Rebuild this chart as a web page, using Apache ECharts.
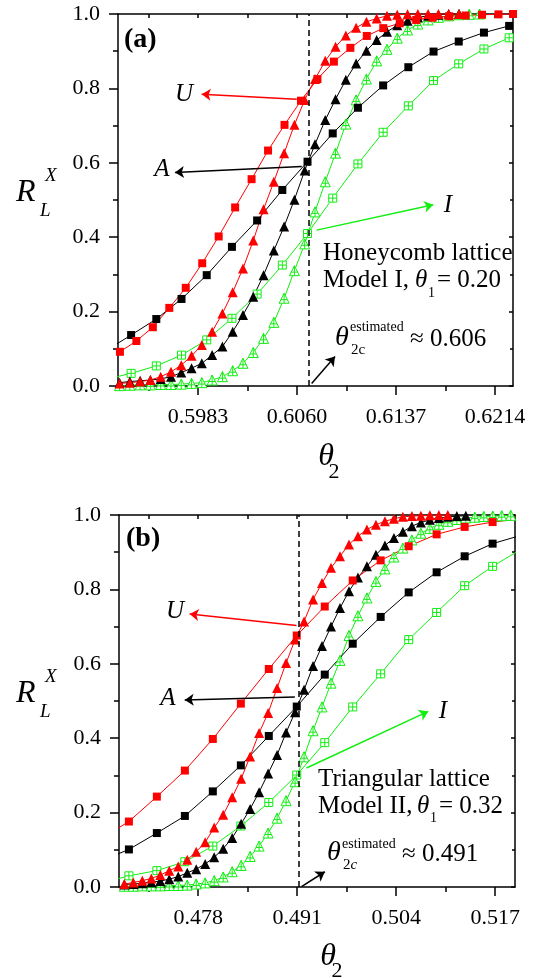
<!DOCTYPE html>
<html>
<head>
<meta charset="utf-8">
<script src="https://cdn.jsdelivr.net/npm/echarts@6/dist/echarts.min.js"></script>
<style>
  html, body { margin: 0; padding: 0; background: #fff; }
  #chart { width: 539px; height: 978px; }
</style>
</head>
<body>
<div id="chart"></div>
<script>
// ---------- panel (a): honeycomb lattice ----------
const aTicks = [0.5983, 0.6060, 0.6137, 0.6214];
const aMinorTicks = [0.59445, 0.60215, 0.60985, 0.61755];
const aCrit = 0.6069;

const aTriX = [0.5922, 0.5930, 0.5938, 0.5946, 0.5954, 0.5962, 0.5970, 0.5978, 0.5986, 0.5994,
  0.6002, 0.6010, 0.6018, 0.6026, 0.6034, 0.6042, 0.6050, 0.6058, 0.6066, 0.6074,
  0.6082, 0.6090, 0.6098, 0.6106, 0.6114, 0.6122, 0.6130, 0.6138, 0.6146, 0.6154,
  0.6162, 0.6170, 0.6178, 0.6186, 0.6194, 0.6202];
const aRedTriY = [0.007, 0.009, 0.012, 0.016, 0.025, 0.038, 0.056, 0.081, 0.110, 0.146,
  0.195, 0.252, 0.316, 0.391, 0.475, 0.549, 0.626, 0.702, 0.769, 0.825,
  0.874, 0.912, 0.942, 0.963, 0.979, 0.988, 0.995, 0.998, 0.999, 1.0,
  1.0, 1.0, 1.0, 1.0];
const aBlackTriY = [0.009, 0.012, 0.014, 0.016, 0.019, 0.025, 0.036, 0.048, 0.061, 0.083,
  0.106, 0.146, 0.191, 0.240, 0.298, 0.364, 0.429, 0.501, 0.579, 0.650,
  0.715, 0.771, 0.823, 0.867, 0.901, 0.930, 0.952, 0.970, 0.982, 0.991,
  0.995, 0.998, 1.0, 1.0];
const aGreenTriY = [0.001, 0.002, 0.003, 0.003, 0.004, 0.004, 0.005, 0.007, 0.009, 0.016,
  0.025, 0.041, 0.061, 0.090, 0.128, 0.171, 0.236, 0.310, 0.382, 0.468,
  0.549, 0.626, 0.704, 0.769, 0.825, 0.874, 0.905, 0.935, 0.957, 0.973,
  0.984, 0.991, 0.995, 0.998, 0.999, 1.0];

const aSqX = [0.59114, 0.5931, 0.59506, 0.59702, 0.59898, 0.60094, 0.6029, 0.60486, 0.60682,
  0.60878, 0.61074, 0.6127, 0.61466, 0.61662, 0.61858, 0.62054, 0.6225];
const aBlackSqY = [0.095, 0.137, 0.180, 0.234, 0.298, 0.374, 0.445, 0.527, 0.603,
  0.679, 0.748, 0.808, 0.857, 0.899, 0.926, 0.950, 0.968];
const aGreenSqY = [0.018, 0.034, 0.054, 0.083, 0.124, 0.182, 0.247, 0.325, 0.410,
  0.505, 0.597, 0.682, 0.753, 0.821, 0.866, 0.906, 0.936];
const aRedSqX = [0.59223, 0.59351, 0.59479, 0.59607, 0.59735, 0.59863, 0.59991, 0.60119, 0.60247,
  0.60375, 0.60503, 0.60631, 0.60759, 0.60887, 0.61015, 0.61143, 0.61271, 0.61399,
  0.61527, 0.61655, 0.61783, 0.61911, 0.62039, 0.62167, 0.6228];
const aRedSqY = [0.092, 0.121, 0.158, 0.210, 0.264, 0.330, 0.402, 0.480, 0.556,
  0.633, 0.702, 0.767, 0.825, 0.872, 0.909, 0.941, 0.962, 0.975,
  0.984, 0.990, 0.994, 0.996, 0.998, 0.999, 1.0];

// arrows: [x1, y1, x2, y2, colour] – head at the second point
const aArrows = [
  [0.60598, 0.771, 0.59859, 0.784, '#ff0000'],
  [0.60637, 0.590, 0.59651, 0.574, '#000000'],
  [0.60753, 0.419, 0.61660, 0.487, '#11ee11'],
  [0.60714, 0.007, 0.60896, 0.079, '#000000']
];

// ---------- panel (b): triangular lattice ----------
const bTicks = [0.478, 0.491, 0.504, 0.517];
const bMinorTicks = [0.4715, 0.4845, 0.4975, 0.5105];
const bCrit = 0.4912;

const bTriX = [0.4683, 0.46948, 0.47066, 0.47184, 0.47302, 0.4742, 0.47538, 0.47656, 0.47774, 0.47892,
  0.4801, 0.48128, 0.48246, 0.48364, 0.48482, 0.486, 0.48718, 0.48836, 0.48954, 0.49072,
  0.4919, 0.49308, 0.49426, 0.49544, 0.49662, 0.4978, 0.49898, 0.50016, 0.50134, 0.50252,
  0.5037, 0.50488, 0.50606, 0.50724, 0.50842, 0.5096, 0.51078, 0.51196, 0.51314, 0.51432,
  0.5155, 0.51668, 0.51786, 0.51904];
const bRedTriY = [0.008, 0.012, 0.017, 0.023, 0.032, 0.044, 0.055, 0.073, 0.095, 0.120,
  0.160, 0.194, 0.241, 0.291, 0.351, 0.414, 0.468, 0.535, 0.602, 0.665,
  0.714, 0.773, 0.817, 0.858, 0.889, 0.921, 0.943, 0.961, 0.974, 0.983,
  0.990, 0.995, 0.997, 0.998, 0.999, 1.0, 1.0];
const bBlackTriY = [0.007, 0.008, 0.010, 0.013, 0.016, 0.021, 0.028, 0.038, 0.048, 0.062,
  0.080, 0.103, 0.132, 0.170, 0.210, 0.255, 0.305, 0.355, 0.415, 0.470,
  0.530, 0.594, 0.648, 0.700, 0.750, 0.795, 0.832, 0.862, 0.893, 0.918,
  0.938, 0.955, 0.970, 0.980, 0.987, 0.992, 0.995, 0.997, 0.998];
const bGreenTriY = [0.002, 0.002, 0.003, 0.003, 0.003, 0.004, 0.004, 0.005, 0.008, 0.011,
  0.017, 0.027, 0.041, 0.058, 0.082, 0.110, 0.145, 0.185, 0.232, 0.283,
  0.350, 0.420, 0.484, 0.548, 0.609, 0.676, 0.729, 0.777, 0.821, 0.855,
  0.887, 0.911, 0.933, 0.951, 0.964, 0.975, 0.983, 0.988, 0.992, 0.994,
  0.996, 0.997, 0.998, 0.999];

const bSqX = [0.46523, 0.4689, 0.47257, 0.47625, 0.47992, 0.4836, 0.48727, 0.49094,
  0.49462, 0.49829, 0.50196, 0.50564, 0.50931, 0.51299, 0.51666, 0.52033];
const bRedSqY = [0.13, 0.176, 0.243, 0.313, 0.398, 0.493, 0.586, 0.676,
  0.754, 0.824, 0.878, 0.916, 0.948, 0.968, 0.981, 0.990];
const bBlackSqY = [0.07, 0.101, 0.145, 0.191, 0.257, 0.327, 0.406, 0.485,
  0.571, 0.654, 0.726, 0.792, 0.846, 0.889, 0.923, 0.945];
const bGreenSqY = [0.01, 0.030, 0.044, 0.068, 0.110, 0.164, 0.227, 0.301,
  0.388, 0.484, 0.573, 0.665, 0.738, 0.810, 0.862, 0.907];

const bArrows = [
  [0.49091, 0.703, 0.47688, 0.734, '#ff0000'],
  [0.49069, 0.511, 0.47623, 0.503, '#000000'],
  [0.49222, 0.320, 0.50821, 0.472, '#11ee11'],
  [0.49157, 0.001, 0.49463, 0.041, '#000000']
];

const RED = '#ff0000', BLACK = '#000000', GREEN = '#11ee11';
const FONT = '"Liberation Serif", "Times New Roman", serif';
const OPEN_SQ = 'path://M0,0L10,0L10,10L0,10Z M5,0L5,10 M0,5L10,5';
const OPEN_TRI = 'path://M5,0L10,9L0,9Z M5,0L5,9 M1.8,5.8L8.2,5.8';

const chart = echarts.init(document.getElementById('chart'), null, { renderer: 'canvas' });

const axisLine = { show: true, onZero: false, lineStyle: { color: '#000', width: 1.5 } };
const tickStyle = { color: '#000', width: 1.5 };

function xAxes(grid, min, max, majors, minors, digits) {
  return [
    { type: 'value', gridIndex: grid, min, max, position: 'bottom', axisLine,
      axisTick: { show: true, customValues: majors, length: 9, lineStyle: tickStyle },
      axisLabel: { show: true, customValues: majors, formatter: v => v.toFixed(digits),
        color: '#000', fontFamily: FONT, fontSize: 22, margin: 20 },
      splitLine: { show: false } },
    { type: 'value', gridIndex: grid, min, max, position: 'bottom', axisLine: { show: false },
      axisTick: { show: true, customValues: minors, length: 5, lineStyle: tickStyle },
      axisLabel: { show: false }, splitLine: { show: false } },
    { type: 'value', gridIndex: grid, min, max, position: 'top', axisLine,
      axisTick: { show: true, inside: true, customValues: majors.concat(minors), length: 4, lineStyle: tickStyle },
      axisLabel: { show: false }, splitLine: { show: false } }
  ];
}

function yAxes(grid) {
  return [
    { type: 'value', gridIndex: grid, min: 0, max: 1, interval: 0.2, position: 'left', axisLine,
      axisTick: { show: true, length: 9, lineStyle: tickStyle },
      minorTick: { show: true, splitNumber: 2, length: 5, lineStyle: tickStyle },
      axisLabel: { formatter: v => v.toFixed(1), color: '#000', fontFamily: FONT, fontSize: 22, margin: 18 },
      splitLine: { show: false }, minorSplitLine: { show: false } },
    { type: 'value', gridIndex: grid, min: 0, max: 1, interval: 0.2, position: 'right', axisLine,
      axisTick: { show: true, inside: true, length: 4, lineStyle: tickStyle },
      minorTick: { show: true, splitNumber: 2, length: 3, lineStyle: tickStyle },
      axisLabel: { show: false }, splitLine: { show: false } }
  ];
}

function mk(xs, ys, color, kind, xi, yi) {
  const symbols = { sq: 'rect', tri: 'triangle', osq: OPEN_SQ, otri: OPEN_TRI };
  const open = kind[0] === 'o';
  return {
    type: 'line', xAxisIndex: xi, yAxisIndex: yi, clip: true, showAllSymbol: true,
    data: ys.map((y, i) => [xs[i], y]),
    symbol: symbols[kind], symbolSize: kind.indexOf('tri') >= 0 ? 10 : 8,
    lineStyle: { color, width: 1 },
    itemStyle: open ? { color: '#fff', borderColor: color, borderWidth: 1 } : { color },
    emphasis: { disabled: true }, silent: true
  };
}

// vertical dashed line at the estimated threshold
function critLine(v, xi, yi) {
  return { type: 'line', xAxisIndex: xi, yAxisIndex: yi, data: [], silent: true,
    markLine: { silent: true, precision: 6, symbol: ['none', 'none'], label: { show: false },
      lineStyle: { color: '#000', type: [6, 4], width: 1.5 },
      data: [[{ coord: [v, 0] }, { coord: [v, 1] }]] } };
}

function arrowLines(list, xi, yi) {
  return { type: 'line', xAxisIndex: xi, yAxisIndex: yi, data: [], silent: true,
    markLine: { silent: true, precision: 6, symbol: ['none', 'arrow'], symbolSize: 9, label: { show: false },
      emphasis: { disabled: true },
      data: list.map(a => [
        { coord: [a[0], a[1]], lineStyle: { color: a[4], width: 1.5, type: 'solid' } },
        { coord: [a[2], a[3]] }
      ]) } };
}

function txt(x, y, text, font, align) {
  return { type: 'text', x, y, silent: true,
    style: { text, font, fill: '#000', textAlign: align || 'left', textVerticalAlign: 'middle' } };
}
const it = s => 'italic ' + s + 'px ' + FONT;
const rm = s => s + 'px ' + FONT;
const bd = s => 'bold ' + s + 'px ' + FONT;

const graphics = [
  // panel a
  txt(16, 193, 'R', it(32)), txt(45, 176, 'X', it(19)), txt(40, 211, 'L', it(19)),
  txt(124, 40, '(a)', bd(28)),
  txt(184, 94, 'U', it(25), 'center'), txt(162, 169, 'A', it(25), 'center'), txt(448, 205, 'I', it(25), 'center'),
  txt(323, 253, 'Honeycomb lattice', rm(25)),
  txt(323, 280, 'Model I,', rm(25)), txt(415, 280, 'θ', it(25)), txt(428, 293, '1', rm(14)), txt(437, 280, '= 0.20', rm(25)),
  txt(335, 338, 'θ', it(28)), txt(350, 327, 'estimated', rm(14)), txt(351, 350, '2c', rm(15)),
  txt(410, 339, '≈ 0.606', rm(25)),
  txt(326, 457, 'θ', it(32), 'center'), txt(334, 472, '2', rm(22), 'center'),
  // panel b
  txt(16, 694, 'R', it(32)), txt(45, 677, 'X', it(19)), txt(40, 712, 'L', it(19)),
  txt(126, 539, '(b)', bd(28)),
  txt(175, 611, 'U', it(25), 'center'), txt(168, 698, 'A', it(25), 'center'), txt(443, 711, 'I', it(25), 'center'),
  txt(318, 779, 'Triangular lattice', rm(25)),
  txt(318, 806, 'Model II,', rm(25)), txt(417, 806, 'θ', it(25)), txt(430, 818, '1', rm(14)), txt(439, 806, '= 0.32', rm(25)),
  txt(327, 853, 'θ', it(28)), txt(342, 844, 'estimated', rm(14)),
  { type: 'text', x: 343, y: 865, silent: true,
    style: { text: '{n|2}{i|c}', textVerticalAlign: 'middle', fill: '#000',
      rich: { n: { font: rm(15), fill: '#000' }, i: { font: it(15), fill: '#000' } } } },
  txt(402, 854, '≈ 0.491', rm(25)),
  txt(328, 957, 'θ', it(32), 'center'), txt(337, 971, '2', rm(22), 'center')
];

const option = {
  animation: false,
  backgroundColor: '#fff',
  grid: [
    { left: 118, top: 14, width: 395, height: 372, containLabel: false, outerBoundsMode: 'none' },
    { left: 119, top: 515, width: 396, height: 372, containLabel: false, outerBoundsMode: 'none' }
  ],
  xAxis: [
    ...xAxes(0, 0.59208, 0.6228, aTicks, aMinorTicks, 4),
    ...xAxes(1, 0.4676, 0.5196, bTicks, bMinorTicks, 3)
  ],
  yAxis: [...yAxes(0), ...yAxes(1)],
  series: [
    critLine(aCrit, 0, 0),
    mk(aSqX, aGreenSqY, GREEN, 'osq', 0, 0),
    mk(aTriX, aGreenTriY, GREEN, 'otri', 0, 0),
    mk(aSqX, aBlackSqY, BLACK, 'sq', 0, 0),
    mk(aTriX, aBlackTriY, BLACK, 'tri', 0, 0),
    mk(aRedSqX, aRedSqY, RED, 'sq', 0, 0),
    mk(aTriX, aRedTriY, RED, 'tri', 0, 0),
    arrowLines(aArrows, 0, 0),

    critLine(bCrit, 3, 2),
    mk(bSqX, bGreenSqY, GREEN, 'osq', 3, 2),
    mk(bTriX, bGreenTriY, GREEN, 'otri', 3, 2),
    mk(bSqX, bBlackSqY, BLACK, 'sq', 3, 2),
    mk(bTriX, bBlackTriY, BLACK, 'tri', 3, 2),
    mk(bSqX, bRedSqY, RED, 'sq', 3, 2),
    mk(bTriX, bRedTriY, RED, 'tri', 3, 2),
    arrowLines(bArrows, 3, 2)
  ],
  graphic: { elements: graphics }
};

chart.setOption(option);
</script>
</body>
</html>
